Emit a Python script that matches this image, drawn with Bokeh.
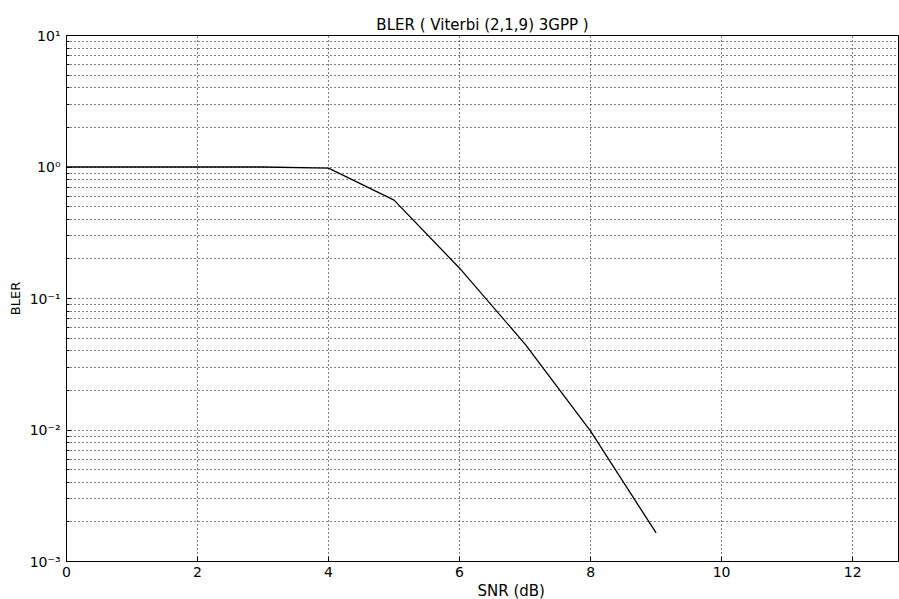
from bokeh.plotting import figure
from bokeh.models import FixedTicker, CustomJSTickFormatter, Range1d, Title
from bokeh.embed import file_html
from bokeh.resources import INLINE

snr_db = [0, 1, 2, 3, 4, 5, 6, 7, 8, 9]
bler = [1.0, 1.0, 1.0, 1.0, 0.98, 0.56, 0.17, 0.045, 0.0098, 0.00165]
x_tick_values = [0, 2, 4, 6, 8, 10, 12]
y_decades = [1e-3, 1e-2, 1e-1, 1.0, 10.0]
y_minor = [m * 10.0 ** e for e in range(-3, 1) for m in range(2, 10)]
x_title = "SNR (dB)"

FONT = "DejaVu Sans"

p = figure(width=899, height=599, y_axis_type="log",
           x_range=Range1d(0, 12.7), y_range=Range1d(1e-3, 10),
           output_backend="svg", toolbar_location=None,
           title="BLER ( Viterbi (2,1,9) 3GPP )",
           y_axis_label="BLER",
           min_border_left=66, min_border_right=1,
           min_border_top=35, min_border_bottom=35)

p.background_fill_color = "white"
p.border_fill_color = "white"
p.outline_line_color = "black"
p.outline_line_width = 1

p.title.align = "center"
p.title.text_font = FONT
p.title.text_font_size = "15px"
p.title.text_font_style = "normal"
p.title.text_color = "black"
p.title.offset = 8
p.title.standoff = 4

p.line(snr_db, bler, line_color="black", line_width=1.3)

p.xaxis.ticker = FixedTicker(ticks=x_tick_values)
p.yaxis.ticker = FixedTicker(ticks=y_decades, minor_ticks=y_minor)
p.yaxis.formatter = CustomJSTickFormatter(code="""
const sup = {'-':'\u207b','0':'\u2070','1':'\u00b9','2':'\u00b2','3':'\u00b3','4':'\u2074','5':'\u2075','6':'\u2076','7':'\u2077','8':'\u2078','9':'\u2079'};
const e = Math.round(Math.log10(tick)).toString();
let s = '';
for (const c of e) { s += sup[c]; }
return '10' + s;
""")

for ax in (p.xaxis, p.yaxis):
    ax.axis_line_color = "black"
    ax.major_tick_line_color = "black"
    ax.minor_tick_line_color = "black"
    ax.major_tick_in = 5
    ax.major_tick_out = 0
    ax.minor_tick_in = 3
    ax.minor_tick_out = 0
    ax.major_label_text_font = FONT
    ax.major_label_text_font_size = "14px"
    ax.major_label_text_color = "black"
    ax.axis_label_text_font = FONT
    ax.axis_label_text_font_style = "normal"
    ax.axis_label_text_color = "black"

p.yaxis.axis_label_text_font_size = "13px"
p.xaxis.major_label_standoff = 5
p.yaxis.major_label_standoff = 6
p.yaxis.axis_label_standoff = 4
p.xaxis.minor_tick_line_color = None

# x-axis title, sitting right of centre as in the reference
p.add_layout(Title(text=x_title, align="left", offset=411, standoff=0,
                   text_font=FONT, text_font_size="15px",
                   text_font_style="normal", text_color="black"), "below")

p.xgrid.grid_line_color = "black"
p.xgrid.grid_line_dash = "1 3"
p.ygrid.grid_line_color = "black"
p.ygrid.grid_line_dash = "1 3"
p.ygrid.minor_grid_line_color = "black"
p.ygrid.minor_grid_line_dash = "1 3"

open("out.html", "w").write(file_html(p, INLINE))
